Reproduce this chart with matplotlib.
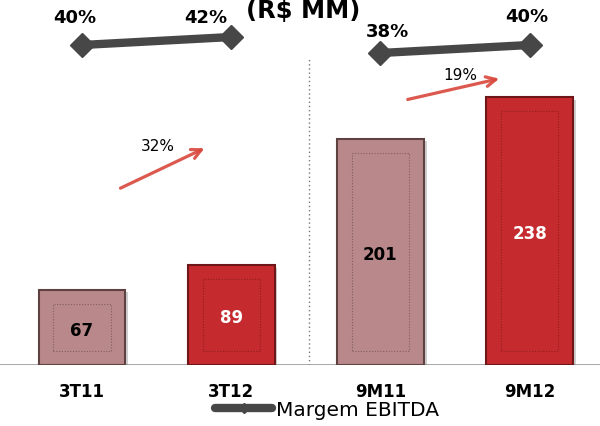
import matplotlib
matplotlib.use("Agg")
import matplotlib.pyplot as plt
import matplotlib.patheffects as pe
from matplotlib.patches import Rectangle
from matplotlib.lines import Line2D

# data
categories = ["3T11", "3T12", "9M11", "9M12"]
ebitda = [67, 89, 201, 238]
margem = [40, 42, 38, 40]
growth_labels = ["32%", "19%"]
title = "(R$ MM)"
legend_label = "Margem EBITDA"

# styling
bar_faces = ["#b9888a", "#c52a2e", "#b9888a", "#c52a2e"]
bar_edges = ["#5e4242", "#6e1618", "#5e4242", "#6e1618"]
value_colors = ["black", "white", "black", "white"]
line_color = "#474747"
arrow_color = "#d9473c"
# label offsets (pixels) for the margin labels
margem_offsets = [(-7, 22), (-25, 14), (7, 16), (-3, 23)]

fig = plt.figure(figsize=(6, 4.26), dpi=100)
ax = fig.add_axes([0, 61 / 426, 1, 365 / 426])
ax.set_xlim(-0.5496, 3.472)
ax.set_ylim(0, 324.2)
ax.axis("off")

x = list(range(len(categories)))
w = 0.583
bars = ax.bar(x, ebitda, width=w, color=bar_faces, edgecolor=bar_edges,
              linewidth=1.5, zorder=3)
for b in bars:
    b.set_path_effects([pe.SimplePatchShadow(offset=(2, -2), alpha=0.35,
                                             shadow_rgbFace="#777777"),
                        pe.Normal()])

# inner dotted frame on each bar
ix, iy = 0.1, 12.5
for i, v in enumerate(ebitda):
    ax.add_patch(Rectangle((i - w / 2 + ix, iy), w - 2 * ix, v - 2 * iy,
                           fill=False, edgecolor=bar_edges[i], lw=0.8,
                           linestyle=(0, (1, 1.5)), alpha=0.6, zorder=4))
    ax.text(i, v / 2 - 3, str(v), ha="center", va="center", fontsize=12,
            fontweight="bold", color=value_colors[i], zorder=5)
    ax.text(i, -28.4, categories[i], ha="center", va="baseline", fontsize=12,
            fontweight="bold", color="black")

# baseline and separator
ax.axhline(0, color="#a0a0a0", lw=1.3, zorder=2)
ax.axvline(1.52, ymin=0, ymax=0.84, color="#777777", lw=1,
           linestyle=(0, (1, 2)), zorder=1)

# growth arrows
arrows = [((0.241, 156), (0.838, 193.6), (0.51, 194.5)),
          ((2.165, 235.3), (2.815, 254.9), (2.533, 256.7))]
for (tail, head, lab), txt in zip(arrows, growth_labels):
    ax.annotate("", xy=head, xytext=tail,
                arrowprops=dict(arrowstyle="->,head_length=0.7,head_width=0.35",
                                color=arrow_color, lw=2.3, alpha=0.9,
                                connectionstyle="arc3,rad=0.0"), zorder=6)
    ax.text(lab[0], lab[1], txt, ha="center", va="center", fontsize=11,
            color="black", zorder=7)

# margin line on secondary scale
ax2 = ax.twinx()
ax2.set_ylim(-40, 51.25)
ax2.axis("off")
for seg in [(0, 1), (2, 3)]:
    ax2.plot(list(seg), [margem[s] for s in seg], color=line_color, lw=6,
             marker="D", markersize=12, solid_capstyle="butt")
for i, m in enumerate(margem):
    ax2.annotate(f"{m}%", xy=(i, m), xytext=margem_offsets[i],
                 textcoords="offset pixels", ha="center", va="baseline",
                 fontsize=13, fontweight="bold", color="black")

# title (cut at the top like the source)
fig.text(303 / 600, 1 - 18.5 / 426, title, ha="center", va="baseline",
         fontsize=17.5, fontweight="bold", color="black")

# legend
handle = Line2D([], [], color=line_color, lw=6, marker="D", markersize=5,
                solid_capstyle="round")
fig.legend(handles=[handle], labels=[legend_label], loc="center left",
           bbox_to_anchor=(215 / 600, 16 / 426), frameon=False, fontsize=14.5,
           handlelength=2.85, handletextpad=0.2, borderpad=0, borderaxespad=0)

fig.savefig("out.png", dpi=100)
